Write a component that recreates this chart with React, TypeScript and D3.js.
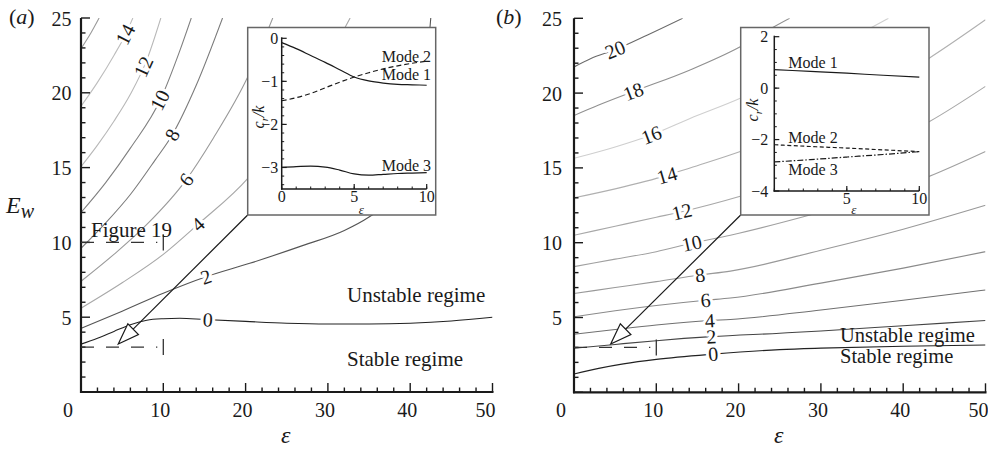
import React from "react";
import * as d3 from "d3";

type Pt = [number, number];

// ---------------- Panel (a): contours in (epsilon, E_w) ----------------
const aLevels = [0, 2, 4, 6, 8, 10, 12, 14, 16];
const aC0: Pt[] = [[0, 3.2], [2, 3.6], [4, 4.05], [6, 4.5], [8, 4.8], [10, 4.9], [12, 4.93], [15, 4.85], [20, 4.72], [25, 4.6], [30, 4.55], [35, 4.55], [40, 4.6], [45, 4.75], [50, 5.0]];
const aC2: Pt[] = [[0, 4.25], [5, 5.4], [10, 6.6], [15.2, 7.7], [20.5, 8.6], [27, 9.8], [32, 10.8], [35, 11.7], [38, 13.0], [40, 15.0], [41.5, 19.0], [42.5, 25]];
const aC4: Pt[] = [[0, 5.6], [5, 7.3], [10, 9.2], [14.2, 11.2], [20.3, 14.3], [26, 18.5], [32.7, 25]];
const aC6: Pt[] = [[0, 7.4], [4, 9.2], [8, 11.2], [12.8, 14.2], [16, 16.9], [20.3, 21.1], [23.3, 25]];
const aC8: Pt[] = [[0, 9.6], [3, 11.3], [6, 13.2], [9, 15.5], [11.1, 17.2], [14, 20.5], [17.2, 25]];
const aC10: Pt[] = [[0, 12.0], [3, 14.0], [6, 16.3], [9.7, 19.6], [12, 22.8], [13.4, 25]];
const aC12: Pt[] = [[0, 15.06], [2, 16.5], [4, 18.1], [6, 19.9], [8, 22.2], [9.7, 25]];
const aC14: Pt[] = [[0, 19.1], [2, 20.7], [4, 22.5], [5.5, 24.0], [6.3, 25]];
const aC16: Pt[] = [[0, 22.95], [1.2, 24.0], [2.2, 25]];
const aCurves = [aC0, aC2, aC4, aC6, aC8, aC10, aC12, aC14, aC16];
const aLabelEps = [15.4, 15.2, 14.2, 12.8, 11.1, 9.6, 7.6, 5.4, null];

// ---------------- Panel (b) ----------------
const bLevels = [0, 2, 4, 6, 8, 10, 12, 14, 16, 18, 20];
const bC0: Pt[] = [[0, 1.22], [3, 1.6], [6, 1.9], [10, 2.2], [16.9, 2.55], [25, 2.85], [30, 2.95], [40, 3.08], [50, 3.16]];
const bC2: Pt[] = [[0, 2.94], [5, 3.2], [10, 3.45], [16.7, 3.72], [25, 3.95], [30, 4.1], [40, 4.45], [50, 4.8]];
const bC4: Pt[] = [[0, 3.88], [5, 4.2], [10, 4.5], [16.5, 4.8], [19, 4.87], [30, 5.5], [40, 6.15], [50, 6.84]];
const bC6: Pt[] = [[0, 5.05], [5, 5.45], [10, 5.8], [16, 6.15], [19, 6.3], [30, 7.3], [40, 8.3], [50, 9.4]];
const bC8: Pt[] = [[0, 6.6], [5, 7.0], [10, 7.4], [15.3, 7.84], [19, 8.1], [30, 9.5], [40, 10.9], [50, 12.5]];
const bC10: Pt[] = [[0, 8.4], [5, 8.9], [10, 9.4], [14.3, 9.96], [19, 10.5], [29, 11.9], [36, 13.0], [43, 14.4], [50, 16.1]];
const bC12: Pt[] = [[0, 10.5], [5, 11.1], [10, 11.7], [13.1, 12.07], [20.2, 13.1], [30, 14.9], [43.2, 18.1], [50, 20.45]];
const bC14: Pt[] = [[0, 13.0], [5, 13.6], [11.3, 14.5], [14.1, 15.0], [20.2, 16.1], [30, 18.3], [43.2, 22.35], [50, 24.9]];
const bC16: Pt[] = [[0, 15.64], [5, 16.4], [9.4, 17.2], [14.1, 18.3], [20.2, 19.65], [28, 21.8], [36.2, 24.4], [38.2, 25]];
const bC18: Pt[] = [[0, 18.5], [3, 19.2], [7.2, 20.1], [14.1, 21.55], [20.2, 23.1], [24.2, 24.4], [26.2, 25]];
const bC20: Pt[] = [[0, 21.75], [2, 22.3], [5, 22.9], [9, 23.9], [13.2, 25]];
const bCurves = [bC0, bC2, bC4, bC6, bC8, bC10, bC12, bC14, bC16, bC18, bC20];
const bLabelEps = [16.9, 16.7, 16.5, 16.0, 15.3, 14.3, 13.1, 11.3, 9.4, 7.2, 5.0];

// main axes ticks
const xMajor = [0, 10, 20, 30, 40, 50];
const xMinor = d3.range(0, 51, 2);
const yMajor = [5, 10, 15, 20, 25];
const yMinor = d3.range(0, 26, 1);

// ---------------- Insets: c_r/k vs epsilon ----------------
const insetEps = [0, 1, 2, 3, 4, 5, 6, 7, 8, 9, 10];
const aMode1 = [-0.1, -0.24, -0.4, -0.56, -0.73, -0.9, -0.99, -1.04, -1.07, -1.08, -1.09];
const aMode2 = [-1.45, -1.38, -1.28, -1.15, -1.02, -0.9, -0.8, -0.71, -0.64, -0.58, -0.53];
const aMode3 = [-3.0, -2.98, -2.97, -2.99, -3.06, -3.15, -3.18, -3.16, -3.14, -3.13, -3.12];
const bInsetEps = [0, 2.5, 5, 7.5, 10];
const bMode1 = [0.72, 0.65, 0.58, 0.5, 0.43];
const bMode2 = [-2.2, -2.27, -2.33, -2.4, -2.47];
const bMode3 = [-2.87, -2.78, -2.68, -2.58, -2.47];

// markers "Figure 19": (eps end, E_w)
const aMarkers: Pt[] = [[10, 10], [10, 3]];
const bMarkers: Pt[] = [[10, 3]];
const aArrowTip: Pt = [4.53, 3.21];
const bArrowTip: Pt = [4.46, 3.23];

const FONT = "'Liberation Serif', 'Times New Roman', serif";
const INK = "#1a1a1a";

const aColors = ["#222", "#555", "#a8a8a8", "#9a9a9a", "#7c7c7c", "#808080", "#b8b8b8", "#bdbdbd", "#9a9a9a"];
const bColors = ["#222", "#444", "#707070", "#8a8a8a", "#999", "#a0a0a0", "#a8a8a8", "#b0b0b0", "#cfcfcf", "#909090", "#6a6a6a"];

function interp(pts: Pt[], x: number) {
  for (let i = 0; i < pts.length - 1; i++) {
    const [x0, y0] = pts[i];
    const [x1, y1] = pts[i + 1];
    if (x >= x0 && x <= x1) return y0 + ((y1 - y0) * (x - x0)) / (x1 - x0);
  }
  return pts[pts.length - 1][1];
}

type PanelCfg = {
  id: string;
  x0: number; x1: number; yb: number; yt: number;
  curves: Pt[][]; levels: number[]; labelEps: (number | null)[]; colors: string[];
  ylabOff: number;
};

function MainPanel({ cfg }: { cfg: PanelCfg }) {
  const x = d3.scaleLinear().domain([0, 50]).range([cfg.x0, cfg.x1]);
  const y = d3.scaleLinear().domain([0, 25]).range([cfg.yb, cfg.yt]);
  const line = d3.line<Pt>().x((d) => x(d[0])).y((d) => y(d[1])).curve(d3.curveMonotoneX);
  return (
    <g>
      <defs>
        <clipPath id={"clip-" + cfg.id}>
          <rect x={cfg.x0} y={cfg.yt} width={cfg.x1 - cfg.x0} height={cfg.yb - cfg.yt} />
        </clipPath>
      </defs>
      <g clipPath={`url(#clip-${cfg.id})`}>
        {cfg.curves.map((c, i) => (
          <path key={i} d={line(c) || ""} fill="none" stroke={cfg.colors[i]} strokeWidth={1.1} />
        ))}
      </g>
      {cfg.curves.map((c, i) => {
        const le = cfg.labelEps[i];
        if (le == null) return null;
        const ly = interp(c, le);
        const dxp = x(le + 0.5) - x(le - 0.5);
        const dyp = y(interp(c, le + 0.5)) - y(interp(c, le - 0.5));
        const ang = (Math.atan2(dyp, dxp) * 180) / Math.PI;
        return (
          <text key={"l" + i} transform={`translate(${x(le)},${y(ly)}) rotate(${ang})`} textAnchor="middle" dy="0.34em"
            fontFamily={FONT} fontSize={20} fill={INK} stroke="#fff" strokeWidth={6} paintOrder="stroke" strokeLinejoin="round">
            {cfg.levels[i]}
          </text>
        );
      })}
      {/* axes */}
      <line x1={cfg.x0} x2={cfg.x0} y1={cfg.yt} y2={cfg.yb + 1} stroke={INK} strokeWidth={2.2} />
      <line x1={cfg.x0 - 1} x2={cfg.x1 + 1} y1={cfg.yb} y2={cfg.yb} stroke={INK} strokeWidth={2.2} />
      {yMinor.map((v) => (
        <line key={"ym" + v} x1={cfg.x0} x2={cfg.x0 + (v % 5 === 0 ? 9 : 4.5)} y1={y(v)} y2={y(v)} stroke={INK} strokeWidth={1.4} />
      ))}
      {xMinor.map((v) => (
        <line key={"xm" + v} x1={x(v)} x2={x(v)} y1={cfg.yb} y2={cfg.yb - (v % 10 === 0 ? 9 : 4.5)} stroke={INK} strokeWidth={1.4} />
      ))}
      {yMajor.map((v) => (
        <text key={"yl" + v} x={cfg.x0 - cfg.ylabOff} y={y(v) + 7.5} textAnchor="end" fontFamily={FONT} fontSize={20} fill={INK}>{v}</text>
      ))}
      {xMajor.map((v) => (
        <text key={"xl" + v} x={x(v) + (v === 0 ? -13 : v === 50 ? -7 : -3)} y={417} textAnchor="middle" fontFamily={FONT} fontSize={20} fill={INK}>{v}</text>
      ))}
      <text x={(cfg.x0 + cfg.x1) / 2 - 1} y={443} textAnchor="middle" fontFamily={FONT} fontStyle="italic" fontSize={24} fill={INK}>ε</text>
    </g>
  );
}

function Markers({ x0, x1, yb, yt, pts }: { x0: number; x1: number; yb: number; yt: number; pts: Pt[] }) {
  const x = d3.scaleLinear().domain([0, 50]).range([x0, x1]);
  const y = d3.scaleLinear().domain([0, 25]).range([yb, yt]);
  return (
    <g>
      {pts.map((p, i) => (
        <g key={i}>
          <line x1={x(0)} x2={x(p[0]) - 6} y1={y(p[1])} y2={y(p[1])} stroke="#333" strokeWidth={1.3} strokeDasharray="13,12" />
          <line x1={x(p[0])} x2={x(p[0])} y1={y(p[1]) - 8} y2={y(p[1]) + 8} stroke="#333" strokeWidth={1.3} />
        </g>
      ))}
    </g>
  );
}

function Arrow({ from, tip }: { from: Pt; tip: Pt }) {
  const dx = from[0] - tip[0];
  const dy = from[1] - tip[1];
  const L = Math.hypot(dx, dy);
  const ux = dx / L, uy = dy / L;
  const hl = 21, hw = 7.5;
  const bx = tip[0] + ux * hl, by = tip[1] + uy * hl;
  const px = -uy, py = ux;
  const tri = `M${tip[0]},${tip[1]} L${bx + px * hw},${by + py * hw} L${bx - px * hw},${by - py * hw} Z`;
  return (
    <g>
      <line x1={from[0]} y1={from[1]} x2={bx} y2={by} stroke={INK} strokeWidth={1.2} />
      <path d={tri} fill="#fff" stroke={INK} strokeWidth={1.2} strokeLinejoin="miter" />
    </g>
  );
}

type InsetCfg = {
  box: [number, number, number, number];
  px0: number; px1: number; pyb: number; pyt: number;
  yDom: [number, number];
  yMaj: number[]; yMin: number[]; xMaj: number[]; xLab: number[]; xMin: number[];
  ylabGap: number;
  series: { eps: number[]; v: number[]; dash?: string }[];
  labels: { t: string; x: number; y: number; anchor: string }[];
  ylab: [number, number];
  ylabFmt: (v: number) => string;
};

function Inset({ c }: { c: InsetCfg }) {
  const x = d3.scaleLinear().domain([0, 10]).range([c.px0, c.px1]);
  const y = d3.scaleLinear().domain(c.yDom).range([c.pyb, c.pyt]);
  const line = d3.line<number>().curve(d3.curveMonotoneX);
  const [bx, by, bw, bh] = c.box;
  return (
    <g>
      <rect x={bx} y={by} width={bw} height={bh} fill="#fff" stroke="#666" strokeWidth={1.5} />
      {c.series.map((s, i) => {
        const pts = s.eps.map((e, j) => [x(e), y(s.v[j])] as [number, number]);
        return <path key={i} d={line(pts) || ""} fill="none" stroke={INK} strokeWidth={1.2} strokeDasharray={s.dash} />;
      })}
      <line x1={c.px0} x2={c.px0} y1={c.pyt - 1} y2={c.pyb + 0.7} stroke={INK} strokeWidth={1.5} />
      <line x1={c.px0 - 0.7} x2={c.px1} y1={c.pyb} y2={c.pyb} stroke={INK} strokeWidth={1.5} />
      {c.yMin.map((v) => (
        <line key={"m" + v} x1={c.px0} x2={c.px0 + 2.5} y1={y(v)} y2={y(v)} stroke={INK} strokeWidth={1} />
      ))}
      {c.yMaj.map((v) => (
        <g key={"M" + v}>
          <line x1={c.px0} x2={c.px0 + 5} y1={y(v)} y2={y(v)} stroke={INK} strokeWidth={1.2} />
          <text x={c.px0 - c.ylabGap} y={y(v) + 5.5} textAnchor="end" fontFamily={FONT} fontSize={16} fill={INK}>{c.ylabFmt(v)}</text>
        </g>
      ))}
      {c.xMin.map((v) => (
        <line key={"xm" + v} x1={x(v)} x2={x(v)} y1={c.pyb} y2={c.pyb - 2.5} stroke={INK} strokeWidth={1} />
      ))}
      {c.xMaj.map((v) => (
        <line key={"xM" + v} x1={x(v)} x2={x(v)} y1={c.pyb} y2={c.pyb - 5} stroke={INK} strokeWidth={1.2} />
      ))}
      {c.xLab.map((v) => (
        <text key={"xl" + v} x={x(v)} y={c.pyb + 13} textAnchor="middle" fontFamily={FONT} fontSize={16} fill={INK}>{v}</text>
      ))}
      <text x={(c.px0 + c.px1) / 2 + 7} y={by + bh - 1} textAnchor="middle" fontFamily={FONT} fontStyle="italic" fontSize={13} fill={INK}>ε</text>
      <text transform={`translate(${c.ylab[0]},${c.ylab[1]}) rotate(-90)`} textAnchor="middle" fontFamily={FONT} fontStyle="italic" fontSize={16} fill={INK}>
        c<tspan fontSize={11} dy={4}>r</tspan><tspan dy={-4}>/k</tspan>
      </text>
      {c.labels.map((l, i) => (
        <text key={"lab" + i} x={l.x} y={l.y} textAnchor={l.anchor as any} fontFamily={FONT} fontSize={16} fill={INK}>{l.t}</text>
      ))}
    </g>
  );
}

const minus = (v: number) => (v < 0 ? "\u2212" + Math.abs(v) : String(v));

export default function App() {
  const A: PanelCfg = { id: "a", x0: 81, x1: 492.5, yb: 392, yt: 18, curves: aCurves, levels: aLevels, labelEps: aLabelEps, colors: aColors, ylabOff: 9.5 };
  const B: PanelCfg = { id: "b", x0: 574, x1: 985.5, yb: 392.3, yt: 18.3, curves: bCurves, levels: bLevels, labelEps: bLabelEps, colors: bColors, ylabOff: 12 };
  const ax = d3.scaleLinear().domain([0, 50]).range([A.x0, A.x1]);
  const ay = d3.scaleLinear().domain([0, 25]).range([A.yb, A.yt]);
  const bx = d3.scaleLinear().domain([0, 50]).range([B.x0, B.x1]);
  const by = d3.scaleLinear().domain([0, 25]).range([B.yb, B.yt]);

  const insetA: InsetCfg = {
    box: [247.7, 27.5, 188, 187.5],
    px0: 281.7, px1: 426.7, pyb: 189, pyt: 38.3,
    yDom: [-3.5, 0],
    yMaj: [0, -1, -2, -3], yMin: d3.range(-3.4, 0, 0.2).map((v) => +v.toFixed(1)),
    xMaj: [0, 5, 10], xLab: [0, 5, 10], xMin: d3.range(0, 11, 1),
    ylabGap: 3.5,
    series: [
      { eps: insetEps, v: aMode1 },
      { eps: insetEps, v: aMode2, dash: "5,3" },
      { eps: insetEps, v: aMode3 },
    ],
    labels: [
      { t: "Mode 2", x: 431, y: 61.5, anchor: "end" },
      { t: "Mode 1", x: 431, y: 80, anchor: "end" },
      { t: "Mode 3", x: 431, y: 170.5, anchor: "end" },
    ],
    ylab: [264, 117],
    ylabFmt: minus,
  };
  const insetB: InsetCfg = {
    box: [740.7, 27.5, 188.3, 187.5],
    px0: 774.3, px1: 919.3, pyb: 191, pyt: 36.7,
    yDom: [-4, 2],
    yMaj: [2, 0, -2, -4], yMin: d3.range(-3.5, 2, 0.5),
    xMaj: [5, 10], xLab: [5, 10], xMin: d3.range(0, 11, 1),
    ylabGap: 6,
    series: [
      { eps: bInsetEps, v: bMode1 },
      { eps: bInsetEps, v: bMode2, dash: "4,2.5" },
      { eps: bInsetEps, v: bMode3, dash: "6,2,1.5,2" },
    ],
    labels: [
      { t: "Mode 1", x: 788.3, y: 68, anchor: "start" },
      { t: "Mode 2", x: 788.3, y: 142.5, anchor: "start" },
      { t: "Mode 3", x: 788.3, y: 175, anchor: "start" },
    ],
    ylab: [758, 110],
    ylabFmt: minus,
  };

  return (
    <svg width={988} height={449} viewBox="0 0 988 449" style={{ display: "block", position: "absolute", left: 0, top: 0, background: "#fff" }}>
      <rect width={988} height={449} fill="#fff" />
      <MainPanel cfg={A} />
      <MainPanel cfg={B} />
      <Markers x0={A.x0} x1={A.x1} yb={A.yb} yt={A.yt} pts={aMarkers} />
      <Markers x0={B.x0} x1={B.x1} yb={B.yb} yt={B.yt} pts={bMarkers} />
      <Arrow from={[247.7, 215]} tip={[ax(aArrowTip[0]), ay(aArrowTip[1])]} />
      <Arrow from={[740.7, 215]} tip={[bx(bArrowTip[0]), by(bArrowTip[1])]} />
      <Inset c={insetA} />
      <Inset c={insetB} />

      {/* annotations */}
      <text x={91} y={237} fontFamily={FONT} fontSize={21} fill={INK}>Figure 19</text>
      <text x={347} y={302} fontFamily={FONT} fontSize={21} fill={INK}>Unstable regime</text>
      <text x={347} y={366} fontFamily={FONT} fontSize={21} fill={INK}>Stable regime</text>
      <text x={840} y={342} fontFamily={FONT} fontSize={20.5} fill={INK}>Unstable regime</text>
      <text x={840} y={362.5} fontFamily={FONT} fontSize={20.5} fill={INK}>Stable regime</text>

      <text x={9} y={24} fontFamily={FONT} fontSize={22} fill={INK}>(<tspan fontStyle="italic">a</tspan>)</text>
      <text x={496} y={24} fontFamily={FONT} fontSize={22} fill={INK}>(<tspan fontStyle="italic">b</tspan>)</text>
      <text x={6} y={213} fontFamily={FONT} fontStyle="italic" fontSize={24} fill={INK}>E<tspan fontSize={20} dy={5}>w</tspan></text>
    </svg>
  );
}
